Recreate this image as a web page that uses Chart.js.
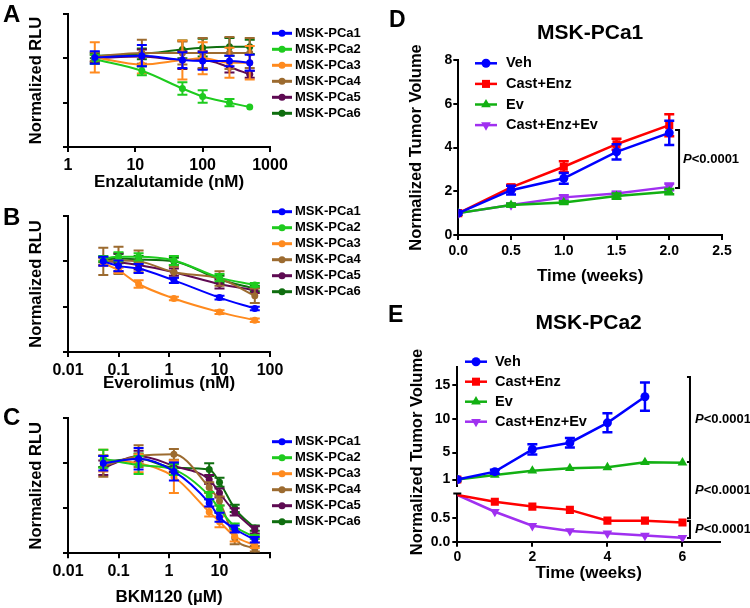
<!DOCTYPE html>
<html>
<head>
<meta charset="utf-8">
<script src="https://cdn.jsdelivr.net/npm/chart.js"></script>
<style>
html,body{margin:0;padding:0;background:#fff;}
#wrap{position:relative;width:750px;height:608px;overflow:hidden;background:#fff;}
#wrap canvas{position:absolute;left:0;top:0;}
</style>
</head>
<body>
<div id="wrap">
<canvas id="cA" width="750" height="608"></canvas>
<canvas id="cB" width="750" height="608"></canvas>
<canvas id="cC" width="750" height="608"></canvas>
<canvas id="cD" width="750" height="608"></canvas>
<canvas id="cEu" width="750" height="608"></canvas>
<canvas id="cEl" width="750" height="608"></canvas>
</div>
<script>
// ================= DATA =================
const cellLines = ['MSK-PCa1', 'MSK-PCa2', 'MSK-PCa3', 'MSK-PCa4', 'MSK-PCa5', 'MSK-PCa6'];
const rluTicks = [0, 0.5, 1, 1.5];

// Panel A: Enzalutamide (nM)
const enzDoses = [2.5, 12.5, 50, 100, 250, 500];
const enzTicks = [1, 10, 100, 1000];
const enzTickLabels = ['1', '10', '100', '1000'];
const enzRLU = [
  [1.01, 1.03, 0.98, 0.97, 0.97, 0.95],
  [0.99, 0.86, 0.66, 0.57, 0.50, 0.45],
  [1.01, 0.93, 0.98, 1.00, 0.95, 0.95],
  [1.02, 1.06, 1.06, 1.06, 1.06, 1.06],
  [1.00, 1.02, 0.98, 0.98, 0.90, 0.82],
  [1.03, 1.05, 1.10, 1.12, 1.13, 1.13]
];
const enzSEM = [
  [0.07, 0.12, 0.09, 0.10, 0.06, 0.09],
  [0.05, 0.05, 0.07, 0.07, 0.04, 0.00],
  [0.17, 0.10, 0.22, 0.18, 0.17, 0.19],
  [0.05, 0.15, 0.13, 0.17, 0.18, 0.17],
  [0.04, 0.08, 0.10, 0.10, 0.06, 0.04],
  [0.03, 0.06, 0.10, 0.10, 0.10, 0.08]
];

// Panel B: Everolimus (nM)
const eveDoses = [0.05, 0.1, 0.25, 1.25, 10, 50];
const eveTicks = [0.01, 0.1, 1, 10, 100];
const eveTickLabels = ['0.01', '0.1', '1', '10', '100'];
const eveRLU = [
  [1.00, 0.95, 0.92, 0.79, 0.60, 0.48],
  [1.03, 1.05, 1.05, 1.01, 0.82, 0.74],
  [0.98, 0.90, 0.75, 0.59, 0.44, 0.35],
  [1.00, 1.01, 1.00, 0.88, 0.81, 0.62],
  [1.00, 0.99, 0.96, 0.88, 0.75, 0.68],
  [1.02, 1.03, 1.02, 1.00, 0.80, 0.70]
];
const eveSEM = [
  [0.05, 0.06, 0.05, 0.03, 0.02, 0.02],
  [0.03, 0.05, 0.04, 0.05, 0.04, 0.02],
  [0.03, 0.03, 0.04, 0.02, 0.02, 0.02],
  [0.15, 0.15, 0.12, 0.06, 0.08, 0.08],
  [0.04, 0.10, 0.05, 0.04, 0.05, 0.03],
  [0.03, 0.05, 0.04, 0.04, 0.04, 0.03]
];

// Panel C: BKM120 (uM)
const bkmDoses = [0.05, 0.25, 1.25, 6.25, 10, 20, 50];
const bkmTicks = [0.01, 0.1, 1, 10, 100];
const bkmTickLabels = ['0.01', '0.1', '1', '10', ''];
const bkmRLU = [
  [1.00, 1.05, 0.91, 0.56, 0.40, 0.27, 0.15],
  [1.05, 0.98, 0.93, 0.64, 0.49, 0.30, 0.18],
  [1.03, 1.00, 0.85, 0.46, 0.35, 0.19, 0.09],
  [0.97, 1.08, 1.10, 0.73, 0.58, 0.17, 0.05],
  [0.95, 1.08, 0.97, 0.82, 0.67, 0.46, 0.26],
  [1.02, 1.05, 0.95, 0.93, 0.79, 0.50, 0.28]
];
const bkmSEM = [
  [0.08, 0.12, 0.10, 0.04, 0.05, 0.04, 0.03],
  [0.10, 0.10, 0.06, 0.04, 0.04, 0.03, 0.02],
  [0.12, 0.10, 0.18, 0.05, 0.06, 0.06, 0.03],
  [0.12, 0.12, 0.06, 0.06, 0.05, 0.07, 0.03],
  [0.08, 0.06, 0.06, 0.05, 0.05, 0.04, 0.04],
  [0.06, 0.06, 0.05, 0.07, 0.05, 0.04, 0.03]
];

// Panels D/E: treatments
const treatments = ['Veh', 'Cast+Enz', 'Ev', 'Cast+Enz+Ev'];
const pLabelParts = ['P', '<0.0001'];

// Panel D: MSK-PCa1
const dWeeks = [0, 0.5, 1, 1.5, 2];
const dTicksX = [0, 0.5, 1, 1.5, 2, 2.5];
const dTickLabelsX = ['0.0', '0.5', '1.0', '1.5', '2.0', '2.5'];
const dTicksY = [0, 2, 4, 6, 8];
const dTickLabelsY = ['0', '2', '4', '6', '8'];
const dVeh = [1, 2.05, 2.59, 3.80, 4.67];
const dCastEnz = [1, 2.18, 3.12, 4.15, 5.02];
const dEv = [1, 1.37, 1.49, 1.78, 1.98];
const dCastEnzEv = [1, 1.37, 1.72, 1.90, 2.20];
const dVehErr = [0, 0.20, 0.25, 0.35, 0.55];
const dCastEnzErr = [0, 0.12, 0.25, 0.25, 0.50];
const dEvErr = [0, 0.07, 0.05, 0.12, 0.12];
const dCastEnzEvErr = [0, 0.05, 0.10, 0.08, 0.15];

// Panel E: MSK-PCa2 (broken y axis)
const eWeeks = [0, 1, 2, 3, 4, 5, 6];
const eTicksX = [0, 2, 4, 6];
const eTickLabelsX = ['0', '2', '4', '6'];
const eTicksYUpper = [1, 5, 10, 15];
const eTickLabelsYUpper = ['1', '5', '10', '15'];
const eTicksYLower = [0, 0.5];
const eTickLabelsYLower = ['0.0', '0.5'];
const eVeh = [1, 2.16, 5.47, 6.45, 9.40, 13.27];
const eVehErr = [0, 0.30, 0.75, 0.70, 1.40, 2.10];
const eCastEnz = [1, 0.855, 0.75, 0.68, 0.45, 0.45, 0.41];
const eEv = [1, 1.67, 2.30, 2.66, 2.80, 3.55, 3.50];
const eCastEnzEv = [1, 0.64, 0.34, 0.23, 0.18, 0.13, 0.085];

// ================= STYLES =================
const cellColors = ['#0000ff', '#1ecb1e', '#ff8a1e', '#9c6b30', '#5e0a52', '#0f6e0f'];
const treatColors = ['#0000ff', '#ff0000', '#12b012', '#a030f0'];
const treatShapes = ['circle', 'rect', 'triangle', 'triangleDown'];
const treatRadius = [4.5, 5.7, 5.6, 5.6];
const FONT = 'Arial, "Liberation Sans", Helvetica, sans-serif';

Chart.defaults.font.family = FONT;
Chart.defaults.font.weight = 'bold';
Chart.defaults.color = '#000';

const reg = {};
const extras = {};

function shapePath(ctx, shape, x, y, r) {
  ctx.beginPath();
  if (shape === 'circle') {
    ctx.arc(x, y, r, 0, Math.PI * 2);
  } else if (shape === 'rect') {
    const s = r * Math.SQRT1_2;
    ctx.rect(x - s, y - s, 2 * s, 2 * s);
  } else {
    const rot = shape === 'triangleDown' ? Math.PI : 0;
    for (let k = 0; k < 3; k++) {
      const a = rot + k * 2 * Math.PI / 3;
      const px = x + Math.sin(a) * r, py = y - Math.cos(a) * r;
      if (k) ctx.lineTo(px, py); else ctx.moveTo(px, py);
    }
    ctx.closePath();
  }
  ctx.fill();
}

function drawParts(ctx, parts, x, y) {
  ctx.textAlign = 'left';
  let cx = x;
  parts.forEach(p => {
    ctx.font = p.f;
    ctx.fillText(p.t, cx, y);
    cx += ctx.measureText(p.t).width;
  });
}

const pagePlugin = {
  id: 'pageExtras',
  afterDatasetDraw(chart, args) {
    const ds = chart.data.datasets[args.index];
    if (!ds.errors) return;
    const meta = args.meta;
    const ys = chart.scales[meta.yAxisID];
    const ctx = chart.ctx;
    ctx.save();
    ctx.strokeStyle = ds.borderColor;
    ctx.lineWidth = ds.errWidth || 2;
    const cap = ds.capHalf || 4;
    meta.data.forEach((pt, i) => {
      const e = ds.errors[i];
      if (!e) return;
      const v = ds.data[i].y;
      const y1 = ys.getPixelForValue(v + e), y2 = ys.getPixelForValue(v - e);
      ctx.beginPath();
      ctx.moveTo(pt.x, y1); ctx.lineTo(pt.x, y2);
      ctx.moveTo(pt.x - cap, y1); ctx.lineTo(pt.x + cap, y1);
      ctx.moveTo(pt.x - cap, y2); ctx.lineTo(pt.x + cap, y2);
      ctx.stroke();
    });
    ctx.restore();
  },
  afterDraw(chart) {
    const ex = extras[chart.canvas.id];
    if (!ex) return;
    const ctx = chart.ctx;
    ctx.save();
    if (ex.legend) {
      const L = ex.legend;
      chart.data.datasets.forEach((ds, i) => {
        const y = L.y0 + i * L.dy;
        ctx.strokeStyle = ds.borderColor;
        ctx.lineWidth = L.lw;
        ctx.beginPath();
        ctx.moveTo(L.x0, y); ctx.lineTo(L.x0 + L.len, y);
        ctx.stroke();
        ctx.fillStyle = ds.borderColor;
        shapePath(ctx, ds.marker, L.x0 + L.len / 2, y, ds.mr);
        ctx.fillStyle = '#000';
        ctx.font = 'bold ' + L.size + 'px ' + FONT;
        ctx.textAlign = 'left';
        ctx.textBaseline = 'middle';
        ctx.fillText(ds.label, L.tx, y);
      });
    }
    if (ex.brackets) {
      ex.brackets.forEach(b => {
        const c1 = b.c1 ? reg[b.c1] : chart;
        const c2 = b.c2 ? reg[b.c2] : chart;
        const x = chart.scales.x.getPixelForValue(b.x);
        const y1 = c1.scales.y.getPixelForValue(b.y1);
        const y2 = c2.scales.y.getPixelForValue(b.y2);
        ctx.strokeStyle = '#000';
        ctx.lineWidth = 2;
        ctx.beginPath();
        ctx.moveTo(x - b.tick, y1); ctx.lineTo(x, y1); ctx.lineTo(x, y2); ctx.lineTo(x - b.tick, y2);
        ctx.stroke();
        ctx.fillStyle = '#000';
        ctx.textBaseline = 'middle';
        drawParts(ctx, [
          { t: pLabelParts[0], f: 'italic bold 13px ' + FONT },
          { t: pLabelParts[1], f: 'bold 13px ' + FONT }
        ], x + b.gap, (y1 + y2) / 2);
      });
    }
    if (ex.breakCap) {
      const a = chart.chartArea;
      ctx.strokeStyle = '#000';
      ctx.lineWidth = 2;
      ctx.beginPath();
      ctx.moveTo(a.left - 4, a.top); ctx.lineTo(a.left + 4, a.top);
      ctx.stroke();
    }
    if (ex.texts) {
      ex.texts.forEach(t => {
        ctx.save();
        ctx.fillStyle = '#000';
        ctx.font = 'bold ' + t.size + 'px ' + FONT;
        ctx.textAlign = t.align || 'left';
        ctx.textBaseline = t.baseline || 'alphabetic';
        ctx.translate(t.x, t.y);
        if (t.rotate) ctx.rotate(t.rotate);
        ctx.fillText(t.t, 0, 0);
        ctx.restore();
      });
    }
    ctx.restore();
  }
};
Chart.register(pagePlugin);

function tickGrid() {
  return { display: true, drawOnChartArea: false, drawTicks: true, tickLength: 5, color: '#000', lineWidth: 2 };
}
function borderOpt() {
  return { display: true, color: '#000', width: 2 };
}
function xScale(type, min, max, ticks, labels, fontSize, pad, title, titleSize, h, display) {
  return {
    type, min, max, display, position: 'bottom',
    afterBuildTicks: s => { s.ticks = ticks.map(v => ({ value: v })); },
    afterFit: s => { s.height = h; },
    grid: tickGrid(), border: borderOpt(),
    ticks: { autoSkip: false, maxRotation: 0, minRotation: 0, padding: pad, color: '#000',
      font: { size: fontSize, weight: 'bold' }, callback: (v, i) => labels[i] },
    title: { display: !!title, text: title || '', color: '#000', font: { size: titleSize, weight: 'bold' }, padding: 0 }
  };
}
function yScale(min, max, ticks, labels, showLabels, fontSize, pad, title, titleSize, w) {
  return {
    type: 'linear', min, max, position: 'left',
    afterBuildTicks: s => { s.ticks = ticks.map(v => ({ value: v })); },
    afterFit: s => { s.width = w; },
    grid: tickGrid(), border: borderOpt(),
    ticks: { display: showLabels, padding: pad, color: '#000', font: { size: fontSize, weight: 'bold' },
      callback: (v, i) => (labels ? labels[i] : v) },
    title: { display: !!title, text: title || '', color: '#000', font: { size: titleSize, weight: 'bold' }, padding: 0 }
  };
}
function baseOptions(padding, scales, title) {
  return {
    responsive: false, animation: false, events: [],
    layout: { padding },
    plugins: { legend: { display: false }, tooltip: { enabled: false }, title: title || { display: false } },
    scales
  };
}

// ---------- Panels A, B, C ----------
function curveChart(id, p) {
  const area = p.area;
  const yLeft = 36.7 - 16.5 * 0.6;
  const xBottom = p.xTitleY + 17 * 0.6;
  const datasets = cellLines.map((name, k) => ({
    label: name,
    data: p.doses.map((d, i) => ({ x: d, y: p.values[k][i] })),
    errors: p.errs[k],
    borderColor: cellColors[k], backgroundColor: cellColors[k],
    borderWidth: 2, pointRadius: 3.5, pointBorderWidth: 0, pointBackgroundColor: cellColors[k],
    cubicInterpolationMode: 'monotone', marker: 'circle', mr: 3.5, capHalf: 5, errWidth: 2
  }));
  extras[id] = {
    legend: { x0: 272, len: 20, tx: 295, y0: p.legendY, dy: 16, lw: 3, size: 13 },
    texts: [{ t: p.letter, x: 3, y: p.letterY, size: 24 }]
  };
  reg[id] = new Chart(document.getElementById(id), {
    type: 'line',
    data: { datasets },
    options: baseOptions(
      { left: yLeft, top: area.T, right: 750 - area.R, bottom: 608 - xBottom },
      {
        x: xScale('logarithmic', p.xMin, p.xMax, p.xTicks, p.xLabels, 16, 4, p.xTitle, 17, xBottom - area.B, true),
        y: yScale(0, 1.5, rluTicks, null, false, 14, 2, 'Normalized RLU', 16.5, area.L - yLeft)
      })
  });
}

curveChart('cA', { doses: enzDoses, values: enzRLU, errs: enzSEM, xMin: 1, xMax: 1000,
  xTicks: enzTicks, xLabels: enzTickLabels, xTitle: 'Enzalutamide (nM)',
  area: { L: 68, T: 14, R: 270, B: 147 }, xTitleY: 182, legendY: 33.3, letter: 'A', letterY: 22 });
curveChart('cB', { doses: eveDoses, values: eveRLU, errs: eveSEM, xMin: 0.01, xMax: 100,
  xTicks: eveTicks, xLabels: eveTickLabels, xTitle: 'Everolimus (nM)',
  area: { L: 68, T: 216, R: 270, B: 352 }, xTitleY: 383.8, legendY: 211.7, letter: 'B', letterY: 225 });
curveChart('cC', { doses: bkmDoses, values: bkmRLU, errs: bkmSEM, xMin: 0.01, xMax: 100,
  xTicks: bkmTicks, xLabels: bkmTickLabels, xTitle: 'BKM120 (\u00b5M)',
  area: { L: 68, T: 418.3, R: 270, B: 553.3 }, xTitleY: 597.3, legendY: 441.7, letter: 'C', letterY: 425 });

// ---------- Panel D ----------
function treatDataset(k, xs, vals, errs, extra) {
  return Object.assign({
    label: treatments[k],
    data: vals.map((v, i) => ({ x: xs[i], y: v })),
    errors: errs || null,
    borderColor: treatColors[k], backgroundColor: treatColors[k],
    borderWidth: 2.5, tension: 0,
    pointStyle: treatShapes[k] === 'triangleDown' ? 'triangle' : treatShapes[k],
    pointRotation: treatShapes[k] === 'triangleDown' ? 180 : 0,
    pointRadius: treatRadius[k], pointBorderWidth: 0, pointBackgroundColor: treatColors[k],
    marker: treatShapes[k], mr: treatRadius[k], capHalf: 5, errWidth: 2.5
  }, extra || {});
}

(function () {
  const area = { L: 458.3, T: 60, R: 722, B: 235 };
  const yLeft = 416.5 - 16.5 * 0.6;
  const xBottom = 276.7 + 17 * 0.6;
  extras.cD = {
    legend: { x0: 475, len: 22, tx: 506, y0: 63.3, dy: 20.6, lw: 2.5, size: 14.5 },
    brackets: [{ x: 2.093, y1: 4.8, y2: 2.15, tick: 4, gap: 4 }],
    texts: [{ t: 'D', x: 389, y: 27, size: 23 }]
  };
  reg.cD = new Chart(document.getElementById('cD'), {
    type: 'line',
    data: { datasets: [
      treatDataset(0, dWeeks, dVeh, dVehErr),
      treatDataset(1, dWeeks, dCastEnz, dCastEnzErr),
      treatDataset(2, dWeeks, dEv, dEvErr),
      treatDataset(3, dWeeks, dCastEnzEv, dCastEnzEvErr)
    ] },
    options: baseOptions(
      { left: yLeft, top: 0, right: 750 - area.R, bottom: 608 - xBottom },
      {
        x: xScale('linear', 0, 2.5, dTicksX, dTickLabelsX, 14, 3, 'Time (weeks)', 17, xBottom - area.B, true),
        y: yScale(0, 8, dTicksY, dTickLabelsY, true, 14, 1, 'Normalized Tumor Volume', 16.5, area.L - yLeft)
      },
      { display: true, text: 'MSK-PCa1', color: '#000', fullSize: false, font: { size: 21, weight: 'bold' },
        padding: { top: 33 - 12.6, bottom: 60 - (33 - 12.6) - 25.2 } })
  });
})();

// ---------- Panel E (upper segment) ----------
(function () {
  const area = { L: 457.3, T: 366.8, R: 720, B: 486.25 };
  const yW = 40;
  const firstOnly = r => (ctx => (ctx.dataIndex === 0 ? r : 0));
  extras.cEu = {
    legend: { x0: 465, len: 22, tx: 495, y0: 361.7, dy: 20, lw: 2.5, size: 14.5 },
    texts: [{ t: 'E', x: 388, y: 322, size: 23 }]
  };
  reg.cEu = new Chart(document.getElementById('cEu'), {
    type: 'line',
    data: { datasets: [
      treatDataset(0, eWeeks, eVeh, eVehErr),
      treatDataset(1, eWeeks, eCastEnz, null, { showLine: false, pointRadius: firstOnly(treatRadius[1]) }),
      treatDataset(2, eWeeks, eEv, null),
      treatDataset(3, eWeeks, eCastEnzEv, null, { showLine: false, pointRadius: firstOnly(treatRadius[3]) })
    ] },
    options: baseOptions(
      { left: area.L - yW, top: 0, right: 750 - area.R, bottom: 608 - area.B },
      {
        x: xScale('linear', 0, 7, eTicksX, eTickLabelsX, 14, 2, '', 17, 0, false),
        y: yScale(0, 17.7, eTicksYUpper, eTickLabelsYUpper, true, 14, 2, '', 16.5, yW)
      },
      { display: true, text: 'MSK-PCa2', color: '#000', fullSize: false, font: { size: 21, weight: 'bold' },
        padding: { top: 323 - 12.6, bottom: 366.8 - (323 - 12.6) - 25.2 } })
  });
})();

// ---------- Panel E (lower segment) ----------
(function () {
  const area = { L: 457.3, T: 493.5, R: 720, B: 541.7 };
  const yW = 40;
  const xBottom = 573.3 + 17 * 0.6;
  const skipFirst = r => (ctx => (ctx.dataIndex === 0 ? 0 : r));
  extras.cEl = {
    breakCap: true,
    brackets: [
      { x: 6.2, y1: 16.2, c1: 'cEu', y2: 3.6, c2: 'cEu', tick: 3, gap: 5 },
      { x: 6.2, y1: 3.6, c1: 'cEu', y2: 0.5, tick: 3, gap: 5 },
      { x: 6.2, y1: 0.44, y2: 0.08, tick: 3, gap: 5 }
    ],
    texts: [{ t: 'Normalized Tumor Volume', x: 417, y: 452, size: 16.5, rotate: -Math.PI / 2, align: 'center', baseline: 'middle' }]
  };
  reg.cEl = new Chart(document.getElementById('cEl'), {
    type: 'line',
    data: { datasets: [
      treatDataset(1, eWeeks, eCastEnz, null, { pointRadius: skipFirst(treatRadius[1]) }),
      treatDataset(3, eWeeks, eCastEnzEv, null, { pointRadius: skipFirst(treatRadius[3]) })
    ] },
    options: baseOptions(
      { left: area.L - yW, top: area.T, right: 750 - area.R, bottom: 608 - xBottom },
      {
        x: xScale('linear', 0, 7, eTicksX, eTickLabelsX, 14, 2, 'Time (weeks)', 17, xBottom - area.B, true),
        y: yScale(0, 1.03, eTicksYLower, eTickLabelsYLower, true, 14, 2, '', 16.5, yW)
      })
  });
})();
</script>
</body>
</html>
